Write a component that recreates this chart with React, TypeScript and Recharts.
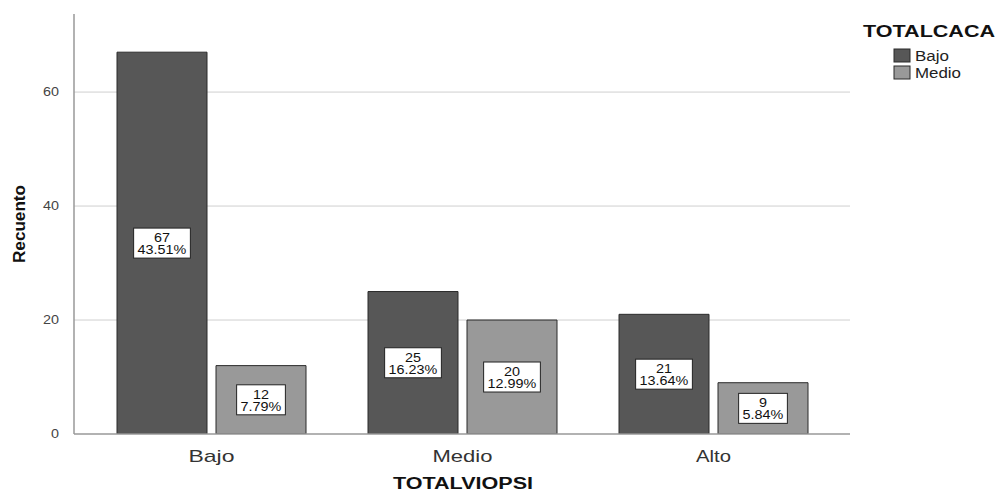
import { BarChart, Bar, XAxis, YAxis, ReferenceLine, LabelList } from 'recharts'

// TOTALVIOPSI categories
const categories = ['Bajo', 'Medio', 'Alto']
// TOTALCACA series counts
const bajoCounts = [67, 25, 21]
const medioCounts = [12, 20, 9]
const bajoPercents = ['43.51%', '16.23%', '13.64%']
const medioPercents = ['7.79%', '12.99%', '5.84%']
const yTicks = [0, 20, 40, 60]

const seriesNames = ['Bajo', 'Medio']
const seriesColors = ['#575757', '#999999']

const FONT = '"Liberation Sans", Arial, sans-serif'
const STRETCH = 1.15

const data = categories.map((name, i) => ({
  name,
  bajo: bajoCounts[i],
  medio: medioCounts[i],
  bajoLabel: `${bajoCounts[i]}|${bajoPercents[i]}`,
  medioLabel: `${medioCounts[i]}|${medioPercents[i]}`,
}))

// rough glyph widths for Liberation Sans, in em
const textWidth = (s: string, size: number) => {
  let w = 0
  for (const ch of s) {
    if (ch === '.') w += 0.278
    else if (ch === '%') w += 0.889
    else w += 0.556
  }
  return w * size
}

const BoxLabel = (props: any) => {
  const { x, y, width, height, value } = props
  const [count, pct] = String(value).split('|')
  const cx = x + width / 2
  const cy = y + height / 2
  const size = 12.5
  const tl = textWidth(pct, size) * STRETCH
  const tlCount = textWidth(count, size) * STRETCH
  const w = tl + 8
  const h = 30
  return (
    <g>
      <rect x={cx - w / 2} y={cy - h / 2} width={w} height={h} fill="#fff" stroke="#222" strokeWidth={1} />
      <text x={cx} y={cy - 1} textAnchor="middle" fontSize={size} fontFamily={FONT} fill="#111"
        textLength={tlCount} lengthAdjust="spacingAndGlyphs">{count}</text>
      <text x={cx} y={cy + 11} textAnchor="middle" fontSize={size} fontFamily={FONT} fill="#111"
        textLength={tl} lengthAdjust="spacingAndGlyphs">{pct}</text>
    </g>
  )
}

const catWidths: Record<string, number> = { Bajo: 46, Medio: 60, Alto: 35 }

const XTick = (props: any) => {
  const { x, y, payload } = props
  return (
    <text x={x} y={y + 20} textAnchor="middle" fontSize={17} fontFamily={FONT} fill="#333"
      textLength={catWidths[payload.value]} lengthAdjust="spacingAndGlyphs">
      {payload.value}
    </text>
  )
}

const YTick = (props: any) => {
  const { x, y, payload } = props
  const s = String(payload.value)
  return (
    <text x={x - 7} y={y + 4} textAnchor="end" fontSize={12} fontFamily={FONT} fill="#444"
      textLength={s.length * 8} lengthAdjust="spacingAndGlyphs">
      {s}
    </text>
  )
}

export default function App() {
  return (
    <div style={{ position: 'fixed', left: 0, top: 0, width: 1000, height: 492, background: '#fff' }}>
      <BarChart width={1000} height={492} data={data} margin={{ top: 14, right: 150, bottom: 0, left: 0 }}
        barGap={9} barSize={90}>
        {yTicks.filter(t => t > 0).map(t => (
          // @ts-ignore zIndex keeps the gridlines under the bars
          <ReferenceLine key={t} y={t} stroke="#cfcfcf" strokeWidth={1} zIndex={-100} />
        ))}
        <XAxis dataKey="name" height={58} padding={{ left: 12, right: 11 }} tickLine={false}
          axisLine={{ stroke: '#999', strokeWidth: 1.5 }} tick={<XTick />} interval={0} />
        <YAxis width={74} domain={[0, 73.7]} ticks={yTicks} tickLine={false}
          axisLine={{ stroke: '#999', strokeWidth: 1.5 }} tick={<YTick />} allowDataOverflow />
        <Bar dataKey="bajo" fill={seriesColors[0]} stroke="#2b2b2b" strokeWidth={1} isAnimationActive={false}>
          <LabelList dataKey="bajoLabel" content={<BoxLabel />} />
        </Bar>
        <Bar dataKey="medio" fill={seriesColors[1]} stroke="#2b2b2b" strokeWidth={1} isAnimationActive={false}>
          <LabelList dataKey="medioLabel" content={<BoxLabel />} />
        </Bar>
      </BarChart>
      <svg width={1000} height={492} style={{ position: 'absolute', left: 0, top: 0, pointerEvents: 'none' }}>
        <text transform="translate(25,224) rotate(-90)" textAnchor="middle" fontSize={16} fontWeight="bold"
          fontFamily={FONT} fill="#111" textLength={78} lengthAdjust="spacingAndGlyphs">Recuento</text>
        <text x={463} y={489} textAnchor="middle" fontSize={16} fontWeight="bold" fontFamily={FONT} fill="#111"
          textLength={140} lengthAdjust="spacingAndGlyphs">TOTALVIOPSI</text>
        <text x={863} y={37} fontSize={16} fontWeight="bold" fontFamily={FONT} fill="#111"
          textLength={132} lengthAdjust="spacingAndGlyphs">TOTALCACA</text>
        {seriesNames.map((name, i) => (
          <g key={name}>
            <rect x={894} y={49 + i * 17} width={16} height={13} fill={seriesColors[i]} stroke="#2b2b2b" strokeWidth={1} />
            <text x={915} y={61 + i * 17} fontSize={14} fontFamily={FONT} fill="#222"
              textLength={name.length === 4 ? 34 : 46} lengthAdjust="spacingAndGlyphs">{name}</text>
          </g>
        ))}
      </svg>
    </div>
  )
}
